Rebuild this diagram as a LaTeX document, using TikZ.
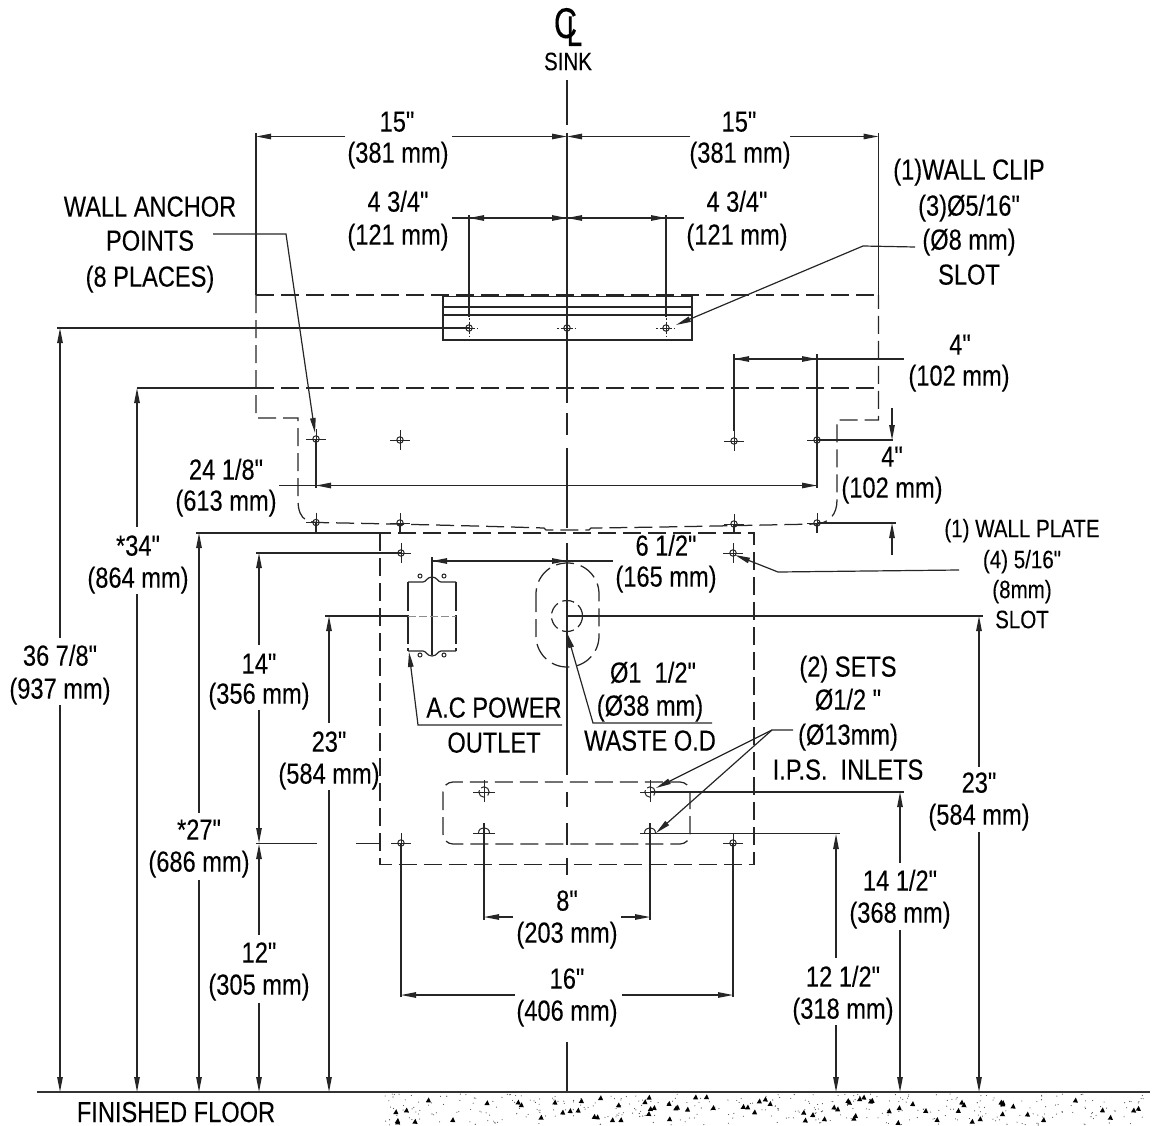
\documentclass[tikz,border=0pt]{standalone}
\usepackage{fontspec}
\newfontfamily\drawfont{Liberation Sans}[FakeStretch=0.815,FakeBold=0.12]
\usetikzlibrary{arrows.meta}
\tikzset{
  >={Triangle[length=15pt,width=5.5pt]},
  ln/.style={line width=1.2pt,draw=black!85},
  thinln/.style={line width=1pt,draw=black!85},
  dsh/.style={line width=1.25pt,draw=black!85,dash pattern=on 18pt off 7pt},
  lbl/.style={inner sep=0pt,outer sep=0pt,text=black,yshift=.8pt,font=\drawfont\fontsize{29}{30}\selectfont,text height=20.8pt,text depth=0pt},
  sml/.style={inner sep=0pt,outer sep=0pt,text=black,yshift=.8pt,font=\drawfont\fontsize{25.2}{26}\selectfont,text height=18pt,text depth=0pt},
  sym/.style={inner sep=0pt,outer sep=0pt,text=black,font=\drawfont\fontsize{43}{44}\selectfont,text height=31pt,text depth=0pt},
}
\newcommand{\hole}[2]{%
  \draw[thinln] (#1-10,#2)--(#1+10,#2) (#1,#2-10)--(#1,#2+10);
  \draw[thinln] (#1,#2) circle (3.2pt);}
\newcommand{\slothole}[2]{%
  \draw[thinln,dash pattern=on 1.5pt off 2pt] (#1-10,#2)--(#1+10,#2) (#1,#2-10)--(#1,#2+10);
  \draw[thinln] (#1-5,#2)--(#1+5,#2) (#1,#2-5)--(#1,#2+5);
  \draw[thinln] (#1,#2) circle (3.2pt);}
\begin{document}
\begin{tikzpicture}[x=1pt,y=-1pt]
\useasboundingbox (0,0) rectangle (1161,1126);
% centre line
\draw[ln] (567,80)--(567,125) (567,133)--(567,403) (567,413)--(567,435) (567,448)--(567,528)
  (567,543)--(567,775) (567,792)--(567,807) (567,823)--(567,845) (567,858)--(567,875) (567,1042)--(567,1092);
% symbol and sink
\node[sym] (clc) at (565.5,22.5) {\scalebox{.92}[1]{C}};
\node[sym] (cll) at (574.5,30.5) {\scalebox{.8}[1]{L}};
\node[sml] (sink) at (568,62) {SINK};
% floor
\draw[line width=1.5pt,draw=black!80] (37,1092)--(1150,1092);
\pgfmathsetseed{11}
\foreach \i in {1,...,360}{
  \pgfmathsetmacro\px{385+765*rnd}\pgfmathsetmacro\py{1094+31*rnd}
  \fill[black!75] (\px,\py) circle (0.55pt);}
\foreach \i in {1,...,78}{
  \pgfmathsetmacro\px{388+760*rnd}\pgfmathsetmacro\py{1097+26*rnd}
  \fill[black] (\px-2.6,\py+2) -- (\px+2.6,\py+2.2) -- (\px+0.4,\py-2.8) -- cycle;}
\node[lbl] (ff) at (176,1112.5) {FINISHED FLOOR};
% outer dashed wall shape
\draw[ln] (256,133)--(256,295) (878.5,133)--(878.5,295);
\draw[dsh] (256,295)--(878.5,295);
\draw[dsh] (256,388)--(878.5,388);
\draw[ln] (137,388)--(256,388);
\draw[dsh] (256,295)--(256,418)--(298,418)--(298,500) .. controls (298,511) and (301,517) .. (306,520)
  .. controls (310,522) and (314,522) .. (317,522.5) .. controls (400,524) and (480,526) .. (544,528)
  -- (546,530) -- (589,530) -- (591,528) .. controls (680,527) and (760,525) .. (818,524)
  .. controls (829,522) and (837,515) .. (837,500) -- (837,420) -- (878.5,420) -- (878.5,295);
% wall clip
\draw[ln] (443,296.5) rectangle (692,340);
\draw[ln] (443,307)--(692,307) (443,315)--(692,315);
\coordinate (c1) at (469,328);\coordinate (c2) at (567,328);\coordinate (c3) at (666,328);
\draw[ln] (469,215)--(469,317) (666,215)--(666,317);
\slothole{469}{328}\slothole{567}{328}\slothole{666}{328}
\draw[ln] (57,328)--(c1);
% top dimensions
\draw[ln,->] (345,136.5)--(256,136.5);
\draw[ln,->] (452,136.5)--(567,136.5);
\draw[ln,->] (690,136.5)--(567,136.5);
\draw[ln,->] (790,136.5)--(878.5,136.5);
\draw[ln] (452,218)--(469,218);
\draw[ln,->] (567,218)--(469,218);
\draw[ln,->] (469,218)--(567,218);
\draw[ln,->] (567,218)--(666,218);
\draw[ln,->] (666,218)--(567,218);
\draw[ln] (666,218)--(684,218);
\node[lbl] (a1) at (397,122) {15"};
\node[lbl] (a2) at (398,153) {(381 mm)};
\node[lbl] (a3) at (739,122) {15"};
\node[lbl] (a4) at (740,153) {(381 mm)};
\node[lbl] (b1) at (398,202) {4 3/4"};
\node[lbl] (b2) at (398,235) {(121 mm)};
\node[lbl] (b3) at (737,202) {4 3/4"};
\node[lbl] (b4) at (737,235) {(121 mm)};
% wall clip label
\node[lbl] (wc1) at (969,170) {(1)WALL CLIP};
\node[lbl] (wc2) at (969,206) {(3)Ø5/16"};
\node[lbl] (wc3) at (969,240) {(Ø8 mm)};
\node[lbl] (wc4) at (969,275) {SLOT};
\draw[ln,->] (915,247)--(863,246)--(676,325);
% anchor label
\node[lbl] (wa1) at (150,207) {WALL ANCHOR};
\node[lbl] (wa2) at (150,241) {POINTS};
\node[lbl] (wa3) at (150,277) {(8 PLACES)};
\draw[ln,->] (213,234)--(286,234)--(315,433);
% anchor holes
\hole{316}{439}\hole{400}{440}\hole{734}{441}\hole{817}{440}
\hole{316}{522.5}\hole{400}{523}\hole{734}{524}\hole{817}{523}
\draw[ln] (316,439)--(316,488) (817,354)--(817,488) (734,354)--(734,431);
\draw[ln] (316,522)--(316,533) (400,523)--(400,533) (734,524)--(734,533) (817,523)--(817,533);
% 4" (102) horizontal
\draw[ln,->] (817,359)--(734,359);
\draw[ln,->] (734,359)--(817,359);
\draw[ln] (817,359)--(904,359);
\node[lbl] (c4a) at (960,345) {4"};
\node[lbl] (c4b) at (959,376) {(102 mm)};
% 24 1/8
\draw[ln,->] (279,485.5)--(817,485.5);
\draw[ln,->] (817,485.5)--(316,485.5);
\node[lbl] (d1) at (226,470) {24 1/8"};
\node[lbl] (d2) at (226,501) {(613 mm)};
% 4" vertical
\draw[ln] (817,440)--(893,440);
\draw[ln,->] (892,408)--(892,440);
\draw[ln] (817,523)--(896,523);
\draw[ln,->] (892,555)--(892,523);
\node[lbl] (e1) at (892,457) {4"};
\node[lbl] (e2) at (892,488) {(102 mm)};
% wall plate
\draw[ln] (196,533)--(380,533);
\draw[dsh] (380,533) rectangle (754,864.5);
\hole{401}{553}\hole{733}{553}\hole{401}{843}\hole{733}{843}
\draw[ln] (256,553)--(401,553);
\draw[ln] (256,843.5)--(317,843.5) (356,843.5)--(380,843.5);
\draw[ln,->] (959,570)--(778,572)--(735,555);
\node[sml] (wp1) at (1022,529) {(1) WALL PLATE};
\node[sml] (wp2) at (1022,560) {(4) 5/16"};
\node[sml] (wp3) at (1022,590) {(8mm)};
\node[sml] (wp4) at (1022,620) {SLOT};
% 6 1/2
\draw[ln] (432,557)--(432,655);
\draw[ln,->] (567,561)--(432,561);
\draw[ln,->] (432,561)--(567,561);
\draw[ln] (567,561)--(613,561);
\node[lbl] (f1) at (666,546) {6 1/2"};
\node[lbl] (f2) at (666,577) {(165 mm)};
% outlet
\draw[ln] (408,582)--(423,582) .. controls (426,582) and (427,577) .. (432,577) .. controls (437,577) and (438,582) .. (441,582)--(456,582);
\draw[ln] (408,651)--(423,651) .. controls (426,651) and (427,656) .. (432,656) .. controls (437,656) and (438,651) .. (441,651)--(456,651);
\draw[ln,dash pattern=on 29pt off 4pt] (408,582)--(408,651) (456,582)--(456,651);
\draw[thinln] (420,576) circle (2pt) (444,576) circle (2pt) (420,655) circle (2pt) (444,655) circle (2pt);
\draw[ln] (325,616)--(408,616);
\draw[thinln,draw=black!45,dash pattern=on 8pt off 3pt] (408,616)--(456,616);
\draw[ln] (567,616)--(983,616);
% waste
\draw[dsh,rounded corners=31pt] (536,563) rectangle (599,667);
\draw[ln,dash pattern=on 12pt off 5pt] (567,616) circle (15.5pt);
\draw[ln,->] (712,723)--(593,723)--(567,633);
\draw[ln,->] (562,725)--(418,725)--(409,652);
\node[lbl] (g1) at (653,673) {Ø1\ \ 1/2"};
\node[lbl] (g2) at (650,706) {(Ø38 mm)};
\node[lbl] (g3) at (650,741) {WASTE O.D};
\node[lbl] (g4) at (494,708) {A.C POWER};
\node[lbl] (g5) at (494,743) {OUTLET};
% inlets
\draw[dsh,rounded corners=10pt] (443,782) rectangle (690,844);
\draw[thinln] (473,792)--(495,792) (484,780)--(484,802) (640,792)--(661,792) (650,780)--(650,802);
\draw[thinln] (473,833)--(495,833) (640,833)--(661,833);
\draw[ln] (484,823)--(484,920) (650,823)--(650,920);
\draw[thinln,dash pattern=on 11pt off 3pt] (484,792) circle (5.2pt) (650,792) circle (5.2pt);
\draw[thinln] (478.5,833) .. controls (478.5,826) and (489.5,826) .. (489.5,833);
\draw[thinln] (644.5,833) .. controls (644.5,826) and (655.5,826) .. (655.5,833);
\draw[ln] (650,792)--(904,792) (650,833.5)--(840,833.5);
\draw[ln,->] (793,730)--(772,730)--(656,788);
\draw[ln,->] (772,730)--(656,833);
\node[lbl] (i1) at (848,667) {(2) SETS};
\node[lbl] (i2) at (848,700) {Ø1/2 "};
\node[lbl] (i3) at (848,735) {(Ø13mm)};
\node[lbl] (i4) at (848,770) {I.P.S.\ \ INLETS};
% 8 and 16
\draw[ln,->] (513,917)--(484,917);
\draw[ln,->] (621,917)--(650,917);
\node[lbl] (j1) at (567,901) {8"};
\node[lbl] (j2) at (567,933) {(203 mm)};
\draw[ln] (401,843)--(401,997) (733,843)--(733,997);
\draw[ln,->] (515,995)--(401,995);
\draw[ln,->] (622,995)--(733,995);
\node[lbl] (k1) at (567,979) {16"};
\node[lbl] (k2) at (567,1011) {(406 mm)};
% left verticals
\draw[ln,<-] (60,328)--(60,638);
\draw[ln,->] (60,705)--(60,1092);
\node[lbl] (l1) at (60,656) {36 7/8"};
\node[lbl] (l2) at (60,689) {(937 mm)};
\draw[ln,<-] (137,388)--(137,527);
\draw[ln,->] (137,594)--(137,1092);
\node[lbl] (m1) at (138,546) {*34"};
\node[lbl] (m2) at (138,578) {(864 mm)};
\draw[ln,<-] (199,533)--(199,813);
\draw[ln,->] (199,880)--(199,1092);
\node[lbl] (n1) at (199,830) {*27"};
\node[lbl] (n2) at (199,862) {(686 mm)};
\draw[ln,<-] (259,553)--(259,645);
\draw[ln,->] (259,710)--(259,843);
\node[lbl] (o1) at (259,664) {14"};
\node[lbl] (o2) at (259,694) {(356 mm)};
\draw[ln,<-] (259,844)--(259,935);
\draw[ln,->] (259,1003)--(259,1092);
\node[lbl] (p1) at (259,953) {12"};
\node[lbl] (p2) at (259,985) {(305 mm)};
\draw[ln,<-] (329,616)--(329,723);
\draw[ln,->] (329,790)--(329,1092);
\node[lbl] (q1) at (329,742) {23"};
\node[lbl] (q2) at (329,774) {(584 mm)};
% right verticals
\draw[ln,<-] (979,616)--(979,767);
\draw[ln,->] (979,832)--(979,1092);
\node[lbl] (r1) at (979,783) {23"};
\node[lbl] (r2) at (979,815) {(584 mm)};
\draw[ln,<-] (900,792)--(900,863);
\draw[ln,->] (900,930)--(900,1092);
\node[lbl] (s1) at (900,881) {14 1/2"};
\node[lbl] (s2) at (900,913) {(368 mm)};
\draw[ln,<-] (836,834)--(836,958);
\draw[ln,->] (836,1025)--(836,1092);
\node[lbl] (t1) at (843,977) {12 1/2"};
\node[lbl] (t2) at (843,1009) {(318 mm)};
\end{tikzpicture}
\end{document}
